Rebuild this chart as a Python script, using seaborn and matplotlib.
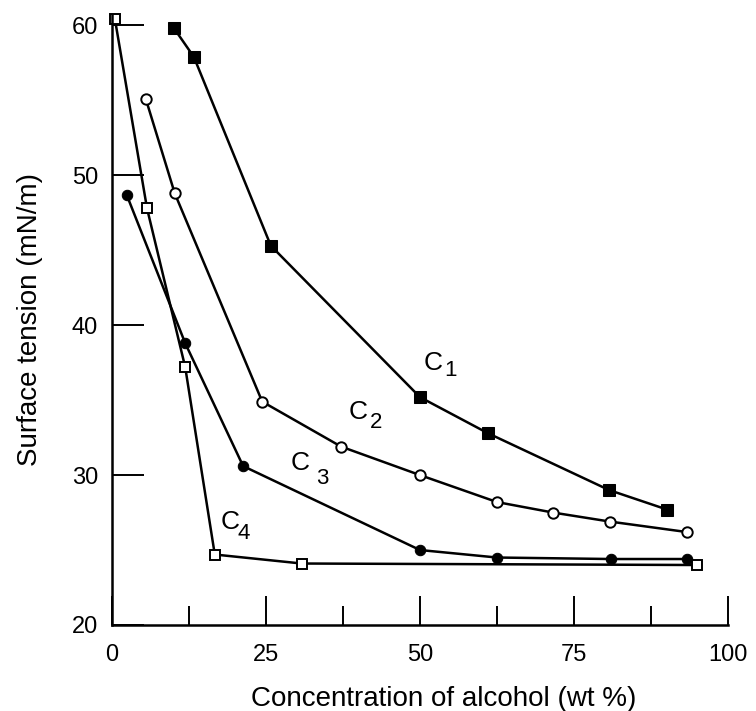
import matplotlib
matplotlib.use("Agg")
import matplotlib.pyplot as plt
import seaborn as sns
import pandas as pd

# Data
c1_x = [10.1, 13.3, 25.8, 50.0, 61.0, 80.7, 90.1]
c1_y = [59.8, 57.9, 45.3, 35.2, 32.8, 29.0, 27.7]

c2_x = [5.5, 10.2, 24.4, 37.2, 50.0, 62.5, 71.6, 80.8, 93.3]
c2_y = [55.1, 48.8, 34.9, 31.9, 30.0, 28.2, 27.5, 26.9, 26.2]

c3_x = [2.4, 11.9, 21.3, 50.0, 62.5, 81.0, 93.3]
c3_y = [48.7, 38.8, 30.6, 25.0, 24.5, 24.4, 24.4]

c4_x = [0.5, 5.7, 11.9, 16.7, 30.8, 95.0]
c4_y = [60.4, 47.8, 37.2, 24.7, 24.1, 24.0]

curve_names = ["1", "2", "3", "4"]
label_pos_C = [(52.1, 37.5), (39.9, 34.2), (30.5, 30.8), (19.2, 26.9)]
label_pos_sub = [(54.9, 37.0), (42.9, 33.5), (34.2, 29.8), (21.4, 26.1)]

x_ticks = [0, 25, 50, 75, 100]
x_minor = [12.5, 37.5, 62.5, 87.5]
y_ticks = [20, 30, 40, 50, 60]

sns.set_style("white")
plt.rcParams["font.family"] = ["Liberation Sans", "DejaVu Sans"]
for key in ["text.color", "axes.labelcolor", "xtick.color", "ytick.color", "axes.edgecolor"]:
    plt.rcParams[key] = "black"

fig = plt.figure(figsize=(7.56, 7.11), dpi=100)
ax = fig.add_axes([0.148, 0.121, 0.815, 0.858])

styles = [
    (c1_x, c1_y, dict(marker="s", markersize=8, markerfacecolor="black", markeredgecolor="black")),
    (c2_x, c2_y, dict(marker="o", markersize=7.5, markerfacecolor="white", markeredgecolor="black", markeredgewidth=1.4)),
    (c3_x, c3_y, dict(marker="o", markersize=7.5, markerfacecolor="black", markeredgecolor="black")),
    (c4_x, c4_y, dict(marker="s", markersize=7.5, markerfacecolor="white", markeredgecolor="black", markeredgewidth=1.4)),
]
for xs, ys, kw in styles:
    df = pd.DataFrame({"x": xs, "y": ys})
    sns.lineplot(data=df, x="x", y="y", ax=ax, color="black", linewidth=1.8,
                 estimator=None, sort=False, clip_on=False, **kw)

for name, (cx, cy), (sx, sy) in zip(curve_names, label_pos_C, label_pos_sub):
    ax.text(cx, cy, "C", fontsize=19, ha="center", va="center", color="black")
    ax.text(sx, sy, name, fontsize=16, ha="center", va="center", color="black")

ax.set_xlim(0, 100)
ax.set_ylim(20, 60.7)
ax.set_xticks(x_ticks)
ax.set_xticks(x_minor, minor=True)
ax.set_yticks(y_ticks)
ax.tick_params(axis="x", which="major", direction="in", length=21, width=1.4, pad=14, labelsize=17)
ax.tick_params(axis="x", which="minor", direction="in", length=14, width=1.4)
ax.tick_params(axis="y", which="major", direction="in", length=23, width=1.4, pad=10, labelsize=17)
ax.tick_params(bottom=True, left=True, which="both")

for side in ["top", "right"]:
    ax.spines[side].set_visible(False)
for side in ["left", "bottom"]:
    ax.spines[side].set_linewidth(1.8)
    ax.spines[side].set_color("black")

ax.set_xlabel("Concentration of alcohol (wt %)", fontsize=20)
ax.set_ylabel("Surface tension (mN/m)", fontsize=20)
ax.xaxis.set_label_coords(0.538, -0.1)
ax.yaxis.set_label_coords(-0.112, 0.5)

fig.savefig("out.png", dpi=100)
